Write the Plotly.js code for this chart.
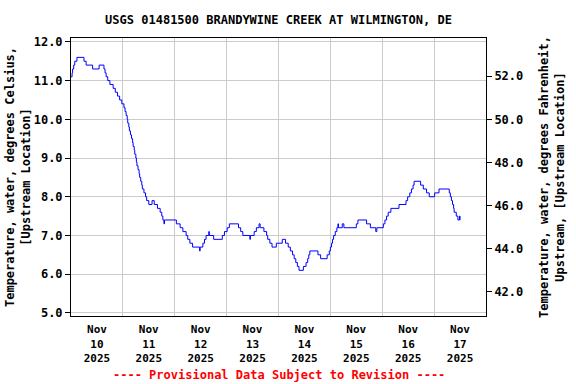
<!DOCTYPE html>
<html>
<head>
<meta charset="utf-8">
<script src="https://cdn.plot.ly/plotly-3.0.1.min.js"></script>
<style>html,body{margin:0;padding:0;background:#fff}#chart{width:576px;height:384px}</style>
</head>
<body>
<div id="chart"></div>
<script>
const times = [
 "2025-11-10 00:00","2025-11-10 00:30","2025-11-10 00:45","2025-11-10 01:15","2025-11-10 01:45","2025-11-10 02:45",
 "2025-11-10 06:00","2025-11-10 07:00","2025-11-10 10:00","2025-11-10 13:00","2025-11-10 15:15","2025-11-10 15:45",
 "2025-11-10 16:15","2025-11-10 17:00","2025-11-10 18:00","2025-11-10 19:30","2025-11-10 20:30","2025-11-10 21:30",
 "2025-11-10 22:30","2025-11-10 23:30",
 "2025-11-11 00:30","2025-11-11 01:00","2025-11-11 01:30","2025-11-11 02:00","2025-11-11 02:15","2025-11-11 02:45",
 "2025-11-11 03:00","2025-11-11 03:30","2025-11-11 04:00","2025-11-11 04:30","2025-11-11 04:45","2025-11-11 05:15",
 "2025-11-11 05:30","2025-11-11 06:00","2025-11-11 06:15","2025-11-11 06:30","2025-11-11 07:00","2025-11-11 07:30",
 "2025-11-11 07:45","2025-11-11 08:15","2025-11-11 08:45","2025-11-11 09:00","2025-11-11 09:45","2025-11-11 10:30",
 "2025-11-11 11:00","2025-11-11 12:00","2025-11-11 13:30","2025-11-11 14:30","2025-11-11 16:00","2025-11-11 17:15",
 "2025-11-11 18:00","2025-11-11 18:30","2025-11-11 19:00","2025-11-11 19:15",
 "2025-11-12 00:45","2025-11-12 02:30","2025-11-12 03:45","2025-11-12 05:15","2025-11-12 06:00","2025-11-12 07:00",
 "2025-11-12 08:15","2025-11-12 11:30","2025-11-12 11:45","2025-11-12 13:00","2025-11-12 13:45","2025-11-12 14:30",
 "2025-11-12 15:45","2025-11-12 16:00","2025-11-12 18:00","2025-11-12 22:00","2025-11-12 23:00",
 "2025-11-13 00:15","2025-11-13 01:15","2025-11-13 05:30","2025-11-13 06:30","2025-11-13 07:30","2025-11-13 10:45",
 "2025-11-13 11:00","2025-11-13 12:45","2025-11-13 13:45","2025-11-13 15:00","2025-11-13 15:30","2025-11-13 17:15",
 "2025-11-13 18:30","2025-11-13 19:00","2025-11-13 20:00","2025-11-13 21:00","2025-11-13 23:00",
 "2025-11-14 01:45","2025-11-14 03:15","2025-11-14 04:30","2025-11-14 05:30","2025-11-14 06:30","2025-11-14 07:15",
 "2025-11-14 08:00","2025-11-14 08:45","2025-11-14 09:30","2025-11-14 11:30","2025-11-14 12:45","2025-11-14 13:30",
 "2025-11-14 14:00","2025-11-14 14:30","2025-11-14 18:15","2025-11-14 19:30","2025-11-14 22:30","2025-11-14 23:30",
 "2025-11-15 00:00","2025-11-15 00:30","2025-11-15 01:00","2025-11-15 01:30","2025-11-15 02:15","2025-11-15 03:00",
 "2025-11-15 03:30","2025-11-15 03:45","2025-11-15 05:30","2025-11-15 06:15","2025-11-15 12:00","2025-11-15 12:45",
 "2025-11-15 16:45","2025-11-15 18:30","2025-11-15 21:00","2025-11-15 21:30",
 "2025-11-16 00:30","2025-11-16 01:15","2025-11-16 02:00","2025-11-16 02:45","2025-11-16 04:00","2025-11-16 07:45",
 "2025-11-16 11:00","2025-11-16 11:45","2025-11-16 12:45","2025-11-16 13:30","2025-11-16 14:15","2025-11-16 14:45",
 "2025-11-16 17:45","2025-11-16 19:00","2025-11-16 20:30","2025-11-16 21:45",
 "2025-11-17 00:15","2025-11-17 02:15","2025-11-17 07:00","2025-11-17 07:30","2025-11-17 08:00","2025-11-17 08:30",
 "2025-11-17 09:00","2025-11-17 09:15","2025-11-17 10:15","2025-11-17 11:00","2025-11-17 11:45","2025-11-17 12:00"
];
const tempC = [
 11.1,11.2,11.3,11.4,11.5,11.6,
 11.5,11.4,11.3,11.4,11.3,11.2,
 11.1,11.0,10.9,10.8,10.7,10.6,
 10.5,10.4,
 10.3,10.2,10.1,10.0,9.9,9.8,
 9.7,9.6,9.5,9.4,9.3,9.2,
 9.1,9.0,8.9,8.8,8.7,8.6,
 8.5,8.4,8.3,8.2,8.1,8.0,
 7.9,7.8,7.9,7.8,7.7,7.6,
 7.5,7.4,7.3,7.4,
 7.3,7.2,7.1,7.0,6.9,6.8,
 6.7,6.6,6.7,6.8,6.9,7.0,
 7.1,7.0,6.9,7.0,7.1,
 7.2,7.3,7.2,7.1,7.0,6.9,
 7.0,7.1,7.2,7.3,7.2,7.1,
 7.0,6.9,6.8,6.7,6.8,
 6.9,6.8,6.7,6.6,6.5,6.4,
 6.3,6.2,6.1,6.2,6.3,6.4,
 6.5,6.6,6.5,6.4,6.5,6.6,
 6.7,6.8,6.9,7.0,7.1,7.2,
 7.3,7.2,7.3,7.2,7.3,7.4,
 7.3,7.2,7.1,7.2,
 7.3,7.4,7.5,7.6,7.7,7.8,
 7.9,8.0,8.1,8.2,8.3,8.4,
 8.3,8.2,8.1,8.0,
 8.1,8.2,8.1,8.0,7.9,7.8,
 7.7,7.6,7.5,7.4,7.5,7.4
];
// Axis tick values / labels
const dayLabelTimes = ["2025-11-10 12:00","2025-11-11 12:00","2025-11-12 12:00","2025-11-13 12:00",
                       "2025-11-14 12:00","2025-11-15 12:00","2025-11-16 12:00","2025-11-17 12:00"];
const dayLabels = ["Nov<br>10<br>2025","Nov<br>11<br>2025","Nov<br>12<br>2025","Nov<br>13<br>2025",
                   "Nov<br>14<br>2025","Nov<br>15<br>2025","Nov<br>16<br>2025","Nov<br>17<br>2025"];
const dayGridTimes = ["2025-11-11","2025-11-12","2025-11-13","2025-11-14","2025-11-15","2025-11-16","2025-11-17"];
const xRange = ["2025-11-10 00:00","2025-11-18 00:00"];
const celsiusRange = [4.92, 12.1];
const celsiusTicks = [5,6,7,8,9,10,11,12];
const fahrenheitTicks = [42,44,46,48,50,52];

const toF = c => c * 1.8 + 32;
const fnt = {family: "DejaVu Sans Mono, monospace", size: 12, color: "#000", weight: "bold"};
const xfnt = {family: "DejaVu Sans Mono, monospace", size: 11, color: "#000", weight: "bold"};

const traces = [
  {x: times, y: tempC, type: "scatter", mode: "lines", line: {color: "#0000ff", width: 1, shape: "hv"},
   hoverinfo: "skip", showlegend: false},
  {x: times, y: tempC.map(toF), type: "scatter", mode: "lines", yaxis: "y2",
   line: {color: "rgba(0,0,0,0)", width: 0, shape: "hv"}, hoverinfo: "skip", showlegend: false}
];

const layout = {
  width: 576, height: 384,
  margin: {l: 71, r: 90, t: 38, b: 68, pad: 0},
  paper_bgcolor: "#fff", plot_bgcolor: "#fff",
  font: fnt,
  title: {text: "USGS 01481500 BRANDYWINE CREEK AT WILMINGTON, DE", font: fnt,
          x: 0.5, xref: "paper", xanchor: "center", y: 1 - 20/384, yanchor: "middle"},
  xaxis: {
    type: "date", range: xRange,
    tickmode: "array", tickvals: dayLabelTimes, ticktext: dayLabels,
    ticks: "", showgrid: false, zeroline: false, ticklabelstandoff: 3,
    showline: true, linecolor: "#000", linewidth: 1, mirror: true,
    tickfont: xfnt, tickangle: 0,
    minor: {tickmode: "array", tickvals: dayGridTimes, showgrid: true, gridcolor: "#cccccc", gridwidth: 1, ticks: ""}
  },
  yaxis: {
    range: celsiusRange, tickmode: "array", tickvals: celsiusTicks, tickformat: ".1f",
    ticks: "outside", ticklen: 5, tickcolor: "#000", tickwidth: 1,
    showgrid: true, gridcolor: "#cccccc", gridwidth: 1, zeroline: false,
    showline: true, linecolor: "#000", linewidth: 1, mirror: true,
    tickfont: fnt,
    title: {text: "Temperature, water, degrees Celsius,<br>[Upstream Location]", font: fnt, standoff: 0}
  },
  yaxis2: {
    overlaying: "y", side: "right",
    range: celsiusRange.map(toF), tickmode: "array", tickvals: fahrenheitTicks, tickformat: ".1f",
    ticks: "outside", ticklen: 5, tickcolor: "#000", tickwidth: 1,
    showgrid: false, zeroline: false,
    showline: true, linecolor: "#000", linewidth: 1,
    tickfont: fnt,
    title: {text: "Temperature, water, degrees Fahrenheit,<br>Upstream, [Upstream Location]", font: fnt, standoff: 17}
  },
  annotations: [{
    text: "---- Provisional Data Subject to Revision ----",
    xref: "paper", yref: "paper", x: 0.5, xanchor: "center",
    y: -(375 - 316) / (316 - 38), yanchor: "middle", showarrow: false,
    font: {family: "DejaVu Sans Mono, monospace", size: 12, color: "#ff0000", weight: "bold"}
  }]
};

Plotly.newPlot("chart", traces, layout, {staticPlot: true, displayModeBar: false});
</script>
</body>
</html>
